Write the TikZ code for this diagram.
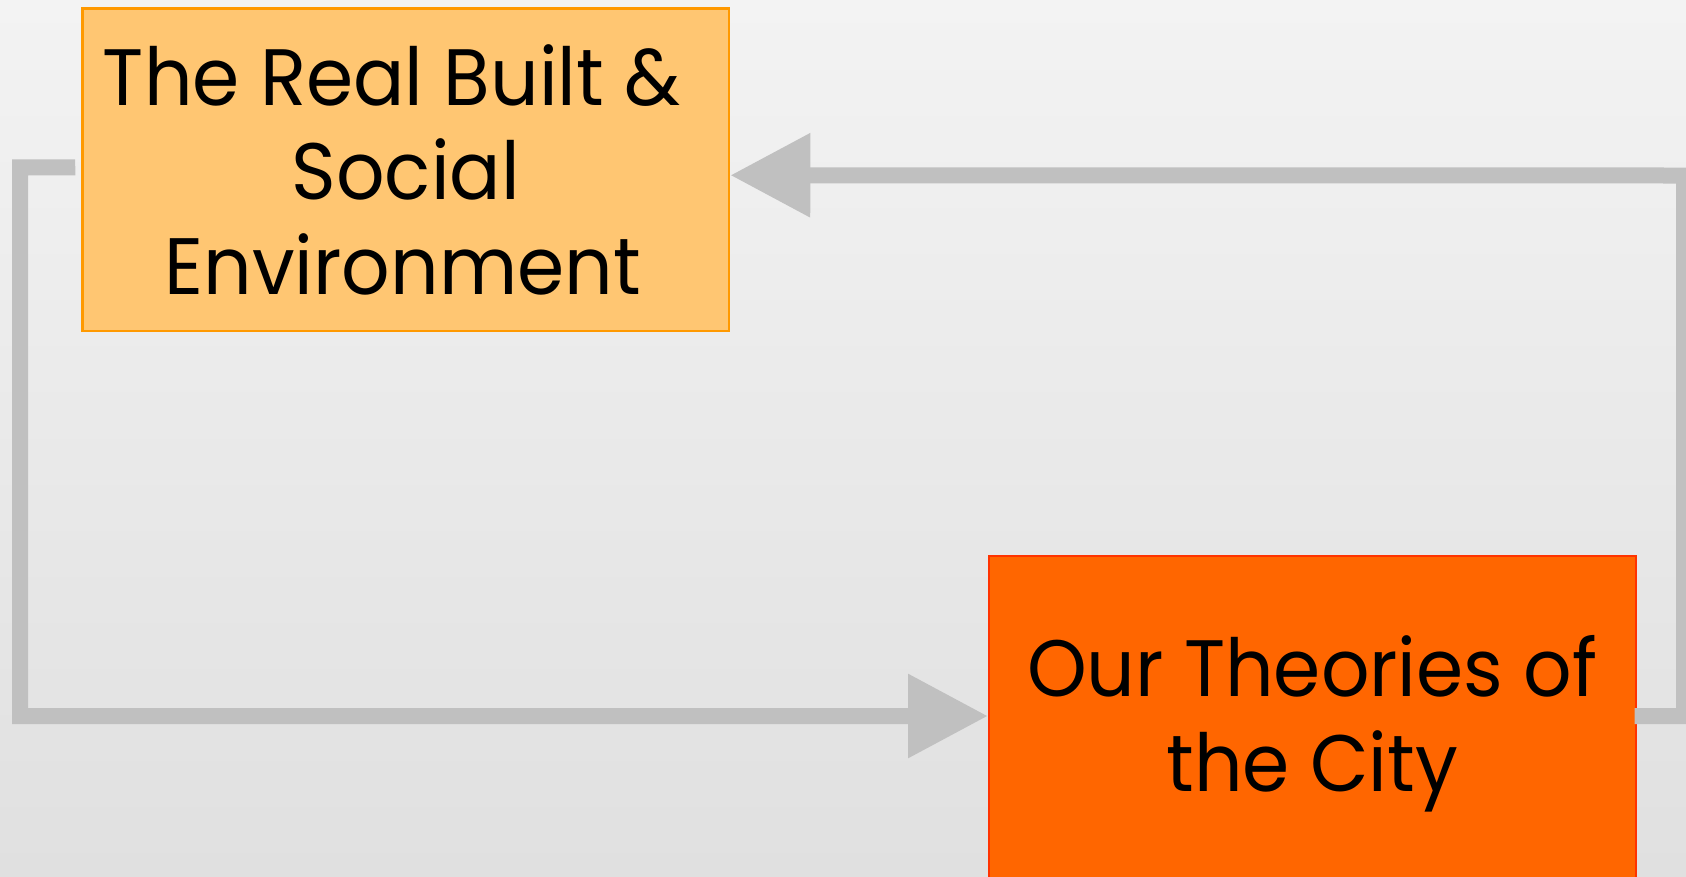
\documentclass[tikz,border=0pt]{standalone}
\usepackage{fontspec}
\setmainfont{Poppins}[FakeStretch=0.95]
\usetikzlibrary{arrows.meta}
\definecolor{bgtop}{HTML}{F3F3F3}
\definecolor{bgbot}{HTML}{E0E0E0}
\definecolor{realfill}{HTML}{FFC672}
\definecolor{realdraw}{HTML}{FF9900}
\definecolor{theoryfill}{HTML}{FF6600}
\definecolor{theorydraw}{HTML}{FF3300}
\definecolor{connc}{HTML}{C0C0C0}
\tikzset{
  boxtext/.style={align=center, font=\fontsize{80}{94.6}\selectfont, text=black, inner sep=0pt},
  realbox/.style={boxtext, fill=realfill, draw=realdraw, line width=2.5pt, minimum width=646.5pt, minimum height=322.5pt},
  theorybox/.style={boxtext, fill=theoryfill, draw=theorydraw, line width=2pt, minimum width=646.5pt, minimum height=335pt},
  conn/.style={draw=connc, line width=16pt, line join=miter, line cap=butt, -{Triangle[length=80pt,width=80pt]}}
}
\begin{document}
\begin{tikzpicture}[x=1pt,y=-1pt]
\useasboundingbox (0,0) rectangle (1686,876);
\shade[top color=bgtop,bottom color=bgbot] (0,0) rectangle (1686,876);
\begin{scope}
\clip (0,0) rectangle (1686,876);
\node[realbox] (real) at (405.75,169.75) {The Real Built \&\hspace*{28pt}\\Social\hspace*{24pt}\\Environment\hspace*{6pt}};
\node[theorybox] (theory) at (1312.25,723.5) {Our Theories of\\the City};
\coordinate (lc1) at (20,167.3);
\coordinate (lc2) at (20,716);
\coordinate (rc1) at (1684,716);
\coordinate (rc2) at (1684,175.5);
\draw[conn] ([xshift=-6pt,yshift=2.5pt]real.west) -- (lc1) -- (lc2) -- ([yshift=7.5pt]theory.west);
\draw[conn] ([xshift=-2pt,yshift=7.5pt]theory.east) -- (rc1) -- (rc2) -- ([yshift=-5.5pt]real.east);
\end{scope}
\end{tikzpicture}
\end{document}
